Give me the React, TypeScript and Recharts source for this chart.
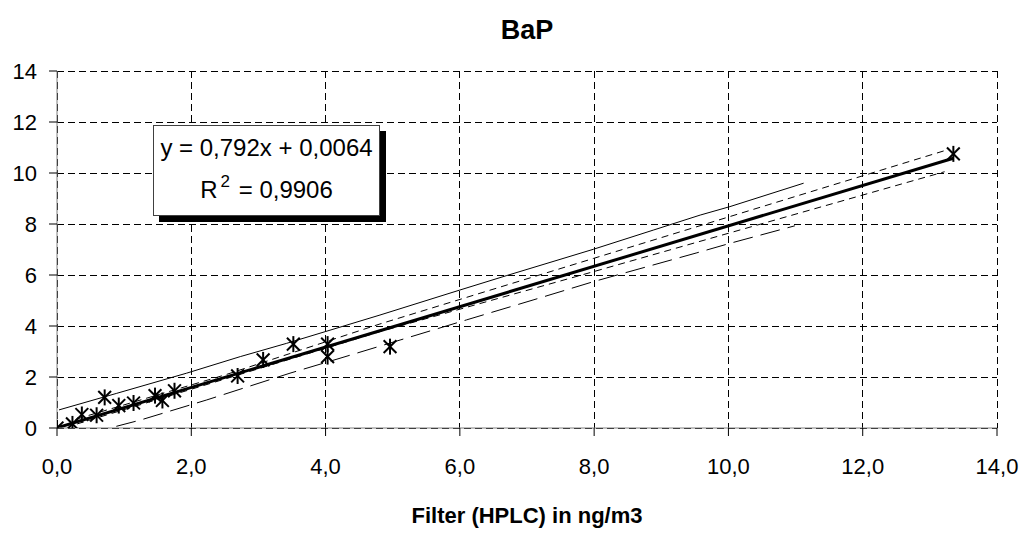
import React from "react";
import {
  ComposedChart,
  Line,
  Scatter,
  XAxis,
  YAxis,
  CartesianGrid,
} from "recharts";

// Measured points (Filter HPLC vs. other method), ng/m3
const pointX = [0, 0.23, 0.37, 0.59, 0.71, 0.92, 1.14, 1.46, 1.57, 1.75, 2.69, 3.07, 3.52, 4.03, 4.03, 4.96, 13.35];
const pointY = [0, 0.16, 0.53, 0.5, 1.2, 0.88, 0.98, 1.27, 1.08, 1.46, 2.04, 2.67, 3.29, 3.29, 2.8, 3.19, 10.75];

// Regression line end points (y = 0,792x + 0,0064)
const regX = [0, 13.35];
const regY = [0.0064, 10.58];

// Upper thin solid band
const upperX = [0.03, 0.89, 1.93, 2.73, 3.42, 4.81, 6.0, 6.7, 7.99, 8.88, 9.58, 10.02, 11.12];
const upperY = [0.71, 1.36, 2.15, 2.8, 3.32, 4.43, 5.41, 5.98, 7.01, 7.76, 8.35, 8.68, 9.6];

// Lower long-dashed band
const lowerX = [0.48, 1.24, 2.23, 3.47, 4.17, 5.11, 6.1, 7.09, 7.99, 9.53, 10.02, 10.99];
const lowerY = [-0.21, 0.31, 1.1, 2.15, 2.7, 3.45, 4.24, 5.02, 5.74, 6.87, 7.24, 7.93];

// Short-dashed lines around regression
const sdUpX = [0.3, 2.5, 4.81, 7.99, 13.25];
const sdUpY = [0.36, 2.08, 4.08, 6.65, 10.9];
const sdLoX = [0.3, 2.5, 4.81, 7.99, 13.22];
const sdLoY = [0.16, 1.92, 3.78, 6.13, 10.05];

const xTicks = [0, 2, 4, 6, 8, 10, 12, 14];
const yTicks = [0, 2, 4, 6, 8, 10, 12, 14];

const title = "BaP";
const xLabel = "Filter (HPLC) in ng/m3";
const eqLine = "y = 0,792x + 0,0064";
const r2Value = "0,9906";

const zip = (xs: number[], ys: number[]) => xs.map((x, i) => ({ x, y: ys[i] }));

const points = zip(pointX, pointY);
const reg = zip(regX, regY);
const upper = zip(upperX, upperY);
const lower = zip(lowerX, lowerY);
const sdUp = zip(sdUpX, sdUpY);
const sdLo = zip(sdLoX, sdLoY);

const FONT = "'Liberation Sans', Arial, sans-serif";

const Star = (props: any) => {
  const { cx, cy } = props;
  if (cx == null || cy == null) return null;
  const r = 8;
  const d = r * 0.8;
  return (
    <g stroke="#000" strokeWidth={2}>
      <line x1={cx} y1={cy - r} x2={cx} y2={cy + r} />
      <line x1={cx - d} y1={cy - d} x2={cx + d} y2={cy + d} />
      <line x1={cx - d} y1={cy + d} x2={cx + d} y2={cy - d} />
    </g>
  );
};

const fmtX = (v: number) => v.toFixed(1).replace(".", ",");

export default function App() {
  const W = 1023;
  const H = 553;
  return (
    <div style={{ position: "absolute", left: 0, top: 0, width: W, height: H, fontFamily: FONT, overflow: "hidden" }}>
      <ComposedChart
        width={W}
        height={H}
        margin={{ top: 71, right: 26, bottom: 65, left: 0 }}
      >
        <CartesianGrid
          stroke="#000"
          strokeDasharray="7 4"
          shapeRendering="crispEdges"
          horizontalValues={yTicks}
          verticalValues={xTicks}
        />
        <XAxis
          type="number"
          dataKey="x"
          domain={[0, 14]}
          ticks={xTicks}
          allowDataOverflow
          tickFormatter={fmtX}
          stroke="#808080"
          tickLine={{ stroke: "#000" }}
          tickSize={8}
          tickMargin={22}
          height={60}
          tick={{ fill: "#000", fontSize: 22, fontFamily: FONT }}
          interval={0}
        />
        <YAxis
          type="number"
          dataKey="y"
          domain={[0, 14]}
          ticks={yTicks}
          allowDataOverflow
          stroke="#808080"
          tickLine={{ stroke: "#000" }}
          tickSize={8}
          tickMargin={12}
          width={57}
          tick={{ fill: "#000", fontSize: 22, fontFamily: FONT }}
          interval={0}
        />
        <Line data={upper} dataKey="y" stroke="#000" strokeWidth={1} dot={false} isAnimationActive={false} type="linear" />
        <Line data={lower} dataKey="y" stroke="#000" strokeWidth={1} strokeDasharray="20 8" dot={false} isAnimationActive={false} type="linear" />
        <Line data={sdUp} dataKey="y" stroke="#000" strokeWidth={1} strokeDasharray="7 5" dot={false} isAnimationActive={false} type="linear" />
        <Line data={sdLo} dataKey="y" stroke="#000" strokeWidth={1} strokeDasharray="7 5" dot={false} isAnimationActive={false} type="linear" />
        <Line data={reg} dataKey="y" stroke="#000" strokeWidth={3} dot={false} isAnimationActive={false} type="linear" />
        <Scatter data={points} dataKey="y" shape={<Star />} isAnimationActive={false} />
      </ComposedChart>

      <div
        style={{
          position: "absolute",
          left: 0,
          width: 1054,
          top: 14,
          textAlign: "center",
          fontWeight: "bold",
          fontSize: 27,
          lineHeight: "32px",
        }}
      >
        {title}
      </div>

      <div
        style={{
          position: "absolute",
          left: 0,
          width: 1054,
          top: 503,
          textAlign: "center",
          fontWeight: "bold",
          fontSize: 22,
          lineHeight: "26px",
        }}
      >
        {xLabel}
      </div>

      <div
        style={{
          position: "absolute",
          left: 153,
          top: 125,
          width: 225,
          height: 89,
          background: "#fff",
          border: "1px solid #404040",
          boxShadow: "6px 6px 0 #000",
          textAlign: "center",
          fontSize: 24,
          color: "#000",
        }}
      >
        <div style={{ position: "absolute", left: 0, right: 0, top: 8, lineHeight: "28px", whiteSpace: "nowrap" }}>{eqLine}</div>
        <div style={{ position: "absolute", left: 0, right: 0, top: 50, lineHeight: "28px", whiteSpace: "nowrap" }}>
          R<span style={{ fontSize: 17, position: "relative", top: -11, marginLeft: 3, marginRight: 2 }}>2</span> = {r2Value}
        </div>
      </div>
    </div>
  );
}
